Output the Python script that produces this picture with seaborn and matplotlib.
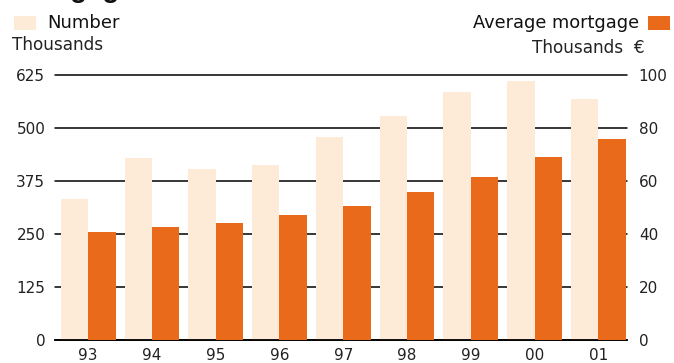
import matplotlib
matplotlib.use("Agg")
import matplotlib.pyplot as plt
from matplotlib.patches import Rectangle
import pandas as pd
import seaborn as sns

# Data: number of mortgages (thousands) and average mortgage (thousands EUR)
years = ["93", "94", "95", "96", "97", "98", "99", "00", "01"]
number = [333, 429, 403, 413, 479, 528, 585, 611, 568]
avg_mortgage = [40.6, 42.6, 44.2, 47.2, 50.6, 55.8, 61.5, 69.1, 75.8]

left_ticks = [0, 125, 250, 375, 500, 625]
right_ticks = [0, 20, 40, 60, 80, 100]

LIGHT = "#FDEBD8"
DARK = "#E96A1B"
series = ["Number", "Average mortgage"]
palette = {"Number": LIGHT, "Average mortgage": DARK}

sns.set_theme(style="white")
plt.rcParams["font.family"] = ["DejaVu Sans"]
plt.rcParams["text.color"] = "#222222"

df_num = pd.DataFrame({"year": years, "value": number, "series": "Number"})
df_avg = pd.DataFrame({"year": years, "value": avg_mortgage, "series": "Average mortgage"})

fig = plt.figure(figsize=(6.74, 3.63), dpi=100)
ax = fig.add_axes([55 / 674, 1 - 340 / 363, (627 - 55) / 674, (340 - 75) / 363])
ax2 = ax.twinx()

sns.barplot(data=df_num, x="year", y="value", hue="series", hue_order=series,
            palette=palette, order=years, width=0.86, gap=0, dodge=True,
            saturation=1, legend=False, ax=ax, zorder=2, linewidth=0)
sns.barplot(data=df_avg, x="year", y="value", hue="series", hue_order=series,
            palette=palette, order=years, width=0.86, gap=0, dodge=True,
            saturation=1, legend=False, ax=ax2, zorder=2, linewidth=0)

ax.set_xlim(-0.52, 8.45)
ax.set_ylim(0, 625)
ax2.set_ylim(0, 100)
ax.set_yticks(left_ticks)
ax2.set_yticks(right_ticks)
ax.set_xlabel("")
ax.set_ylabel("")
ax2.set_ylabel("")

for a in (ax, ax2):
    for s in a.spines.values():
        s.set_visible(False)
    a.patch.set_visible(False)

ax.spines["bottom"].set_visible(True)
ax.spines["bottom"].set_color("black")
ax.spines["bottom"].set_linewidth(1.3)
ax.spines["bottom"].set_zorder(5)

ax.yaxis.grid(True, color="black", linewidth=1.1, zorder=0)
ax.set_axisbelow(True)
for gl in ax.get_ygridlines():
    gl.set_clip_on(False)

ax.tick_params(axis="y", length=0, pad=7, labelsize=11, labelcolor="#222222")
ax2.tick_params(axis="y", length=0, pad=8.5, labelsize=11, labelcolor="#222222")
ax.tick_params(axis="x", length=0, pad=6, labelsize=11, labelcolor="#222222")

# Header: title and legend keys
fig.text(10 / 674, 1 + 3 / 363, "Mortgages", fontsize=20, fontweight="bold",
         family="Liberation Sans", ha="left", va="baseline", color="#111111")
fig.patches.append(Rectangle((14 / 674, 1 - 30 / 363), 22 / 674, 14 / 363,
                             transform=fig.transFigure, facecolor=LIGHT,
                             edgecolor="none"))
fig.text(47 / 674, 1 - 22.5 / 363, "Number", fontsize=13, ha="left",
         va="center", color="#111111")
fig.text(12 / 674, 1 - 44.5 / 363, "Thousands", fontsize=12.2, ha="left",
         va="center", color="#222222")

fig.patches.append(Rectangle((648 / 674, 1 - 30 / 363), 22 / 674, 14 / 363,
                             transform=fig.transFigure, facecolor=DARK,
                             edgecolor="none"))
fig.text(639 / 674, 1 - 22.5 / 363, "Average mortgage", fontsize=12.8, ha="right",
         va="center", color="#111111")
fig.text(645 / 674, 1 - 48 / 363, "Thousands  €", fontsize=12.2, ha="right",
         va="center", color="#222222")

fig.savefig("out.png", dpi=100)
